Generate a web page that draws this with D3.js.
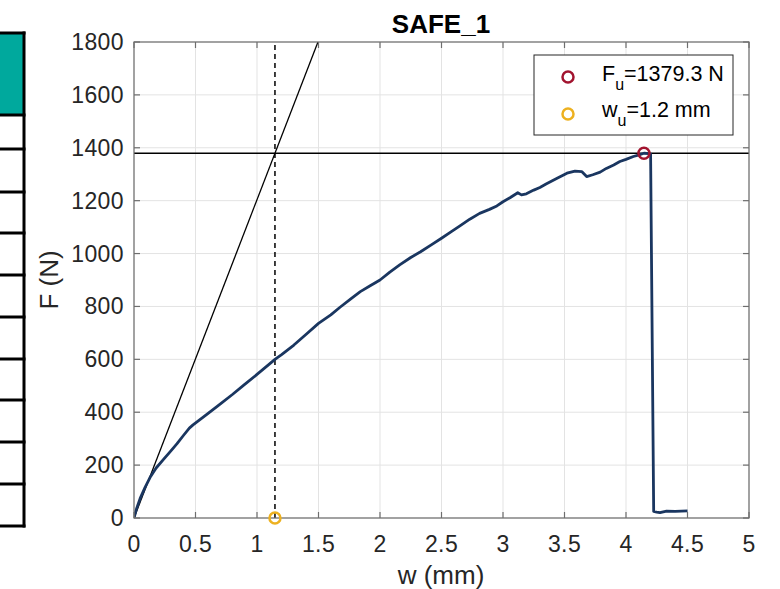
<!DOCTYPE html>
<html><head><meta charset="utf-8">
<script src="https://cdn.jsdelivr.net/npm/d3@7"></script>
<style>html,body{margin:0;padding:0;background:#fff;}svg{display:block;font-family:"Liberation Sans",Arial,Helvetica,sans-serif;}</style>
</head><body>
<svg id="c" width="780" height="589"></svg>
<script>
// ---- data ----
const wData = [0,0.02,0.05,0.09,0.13,0.18,0.24,0.3,0.35,0.4,0.45,0.48,0.52,0.6,0.7,0.8,0.9,1.0,1.1,1.146,1.2,1.3,1.4,1.5,1.6,1.675,1.76,1.84,1.92,2.0,2.08,2.16,2.25,2.33,2.42,2.5,2.58,2.65,2.73,2.81,2.89,2.95,3.0,3.06,3.12,3.15,3.19,3.25,3.3,3.35,3.44,3.52,3.585,3.64,3.68,3.73,3.79,3.84,3.9,3.95,4.0,4.06,4.1,4.146,4.19,4.2,4.225,4.25,4.276,4.33,4.4,4.5];
const FData = [0,34,74,116,153,189,222,254,281,311,340,352,366,395,431,467,505,543,582,600,618,654,695,736,768,797,828,856,878,900,930,957,985,1007,1034,1058,1083,1105,1130,1152,1167,1180,1196,1212,1230,1222,1226,1240,1250,1263,1285,1304,1312,1310,1291,1298,1308,1322,1335,1348,1356,1367,1372,1379.3,1378,1376,25,22,20,26,25,27];
const Fu = 1379.3;      // ultimate force (N)
const wuAt = 4.146;     // displacement at Fu
const wu = 1.146;       // displacement from tangent intersection
const wuLabel = "1.2";
const stiffness = Fu / wu; // initial tangent slope (N/mm)
const xTicks = [0,0.5,1,1.5,2,2.5,3,3.5,4,4.5,5];
const yTicks = [0,200,400,600,800,1000,1200,1400,1600,1800];
const tableRows = [33,115,149,192,233,275,317,359,400,442,484,526];

const svg = d3.select("#c");
const x = d3.scaleLinear().domain([0,5]).range([134,749]);
const y = d3.scaleLinear().domain([0,1800]).range([518,42]);

// left table fragment
const tb = svg.append("g");
tb.append("rect").attr("x",-5).attr("y",tableRows[0]).attr("width",29).attr("height",tableRows[1]-tableRows[0]).attr("fill","#00a99d");
tb.append("line").attr("x1",24).attr("x2",24).attr("y1",tableRows[0]-1.5).attr("y2",tableRows[tableRows.length-1]+1.5).attr("stroke","#000").attr("stroke-width",3);
tableRows.forEach(r=>tb.append("line").attr("x1",-5).attr("x2",25.5).attr("y1",r).attr("y2",r).attr("stroke","#000").attr("stroke-width",3));

// grid
const g = svg.append("g");
g.selectAll(".gx").data(xTicks).enter().append("line").attr("x1",d=>x(d)).attr("x2",d=>x(d)).attr("y1",y(0)).attr("y2",y(1800)).attr("stroke","#e3e3e3").attr("stroke-width",1);
g.selectAll(".gy").data(yTicks).enter().append("line").attr("y1",d=>y(d)).attr("y2",d=>y(d)).attr("x1",x(0)).attr("x2",x(5)).attr("stroke","#e3e3e3").attr("stroke-width",1);

svg.append("clipPath").attr("id","pc").append("rect").attr("x",x(0)).attr("y",y(1800)).attr("width",x(5)-x(0)).attr("height",y(0)-y(1800));
const pl = svg.append("g").attr("clip-path","url(#pc)");

// tangent line
pl.append("line").attr("x1",x(0)).attr("y1",y(0)).attr("x2",x(1800/stiffness)).attr("y2",y(1800)).attr("stroke","#000").attr("stroke-width",1.3);
// horizontal Fu line
pl.append("line").attr("x1",x(0)).attr("x2",x(5)).attr("y1",y(Fu)).attr("y2",y(Fu)).attr("stroke","#000").attr("stroke-width",1.5);
// dashed vertical at wu
pl.append("line").attr("x1",x(wu)).attr("x2",x(wu)).attr("y1",y(0)).attr("y2",y(1800)).attr("stroke","#000").attr("stroke-width",1.5).attr("stroke-dasharray","5,4");
// curve
const line = d3.line().x((d,i)=>x(wData[i])).y((d,i)=>y(FData[i]));
pl.append("path").datum(FData).attr("d",line).attr("fill","none").attr("stroke","#1a3660").attr("stroke-width",2.8).attr("stroke-linejoin","round");

// axes box
const ax = svg.append("g").attr("stroke","#6e6e6e").attr("stroke-width",1.2).attr("fill","none");
ax.append("rect").attr("x",x(0)).attr("y",y(1800)).attr("width",x(5)-x(0)).attr("height",y(0)-y(1800));
xTicks.forEach(t=>{
  ax.append("line").attr("x1",x(t)).attr("x2",x(t)).attr("y1",y(0)).attr("y2",y(0)-6);
  ax.append("line").attr("x1",x(t)).attr("x2",x(t)).attr("y1",y(1800)).attr("y2",y(1800)+6);
});
yTicks.forEach(t=>{
  ax.append("line").attr("y1",y(t)).attr("y2",y(t)).attr("x1",x(0)).attr("x2",x(0)+6);
  ax.append("line").attr("y1",y(t)).attr("y2",y(t)).attr("x1",x(5)).attr("x2",x(5)-6);
});

// markers (unclipped)
svg.append("circle").attr("cx",x(wuAt)).attr("cy",y(Fu)).attr("r",5.5).attr("fill","none").attr("stroke","#a2142f").attr("stroke-width",2.5);
svg.append("circle").attr("cx",x(wu)).attr("cy",y(0)).attr("r",5.5).attr("fill","none").attr("stroke","#edb120").attr("stroke-width",2.5);

// tick labels
const tl = svg.append("g").attr("fill","#262626").attr("font-size",23).attr("letter-spacing","0.4");
xTicks.forEach(t=>tl.append("text").attr("x",x(t)).attr("y",552).attr("text-anchor","middle").text(d3.format("")(t)));
yTicks.forEach(t=>tl.append("text").attr("x",124).attr("y",y(t)+8).attr("text-anchor","end").text(t));

// axis labels and title
svg.append("text").attr("x",441).attr("y",584).attr("text-anchor","middle").attr("font-size",26).attr("fill","#262626").text("w (mm)");
svg.append("text").attr("transform","translate(58,280) rotate(-90)").attr("text-anchor","middle").attr("font-size",26).attr("fill","#262626").text("F (N)");
svg.append("text").attr("x",441).attr("y",33).attr("text-anchor","middle").attr("font-size",26).attr("font-weight","bold").attr("fill","#000").text("SAFE_1");

// legend
const lg = svg.append("g");
lg.append("rect").attr("x",534).attr("y",55).attr("width",199).attr("height",80).attr("fill","#fff").attr("stroke","#262626").attr("stroke-width",1);
lg.append("circle").attr("cx",568).attr("cy",77).attr("r",5.5).attr("fill","none").attr("stroke","#a2142f").attr("stroke-width",2.5);
lg.append("circle").attr("cx",568).attr("cy",114).attr("r",5.5).attr("fill","none").attr("stroke","#edb120").attr("stroke-width",2.5);
const t1 = lg.append("text").attr("x",602).attr("y",81).attr("font-size",21.5).attr("fill","#000");
t1.append("tspan").text("F");
t1.append("tspan").attr("font-size",16).attr("dy",9).text("u");
t1.append("tspan").attr("dy",-9).text("=" + Fu + " N");
const t2 = lg.append("text").attr("x",602).attr("y",117).attr("font-size",21.5).attr("fill","#000");
t2.append("tspan").text("w");
t2.append("tspan").attr("font-size",16).attr("dy",9).text("u");
t2.append("tspan").attr("dy",-9).text("=" + wuLabel + " mm");
</script>
</body></html>
